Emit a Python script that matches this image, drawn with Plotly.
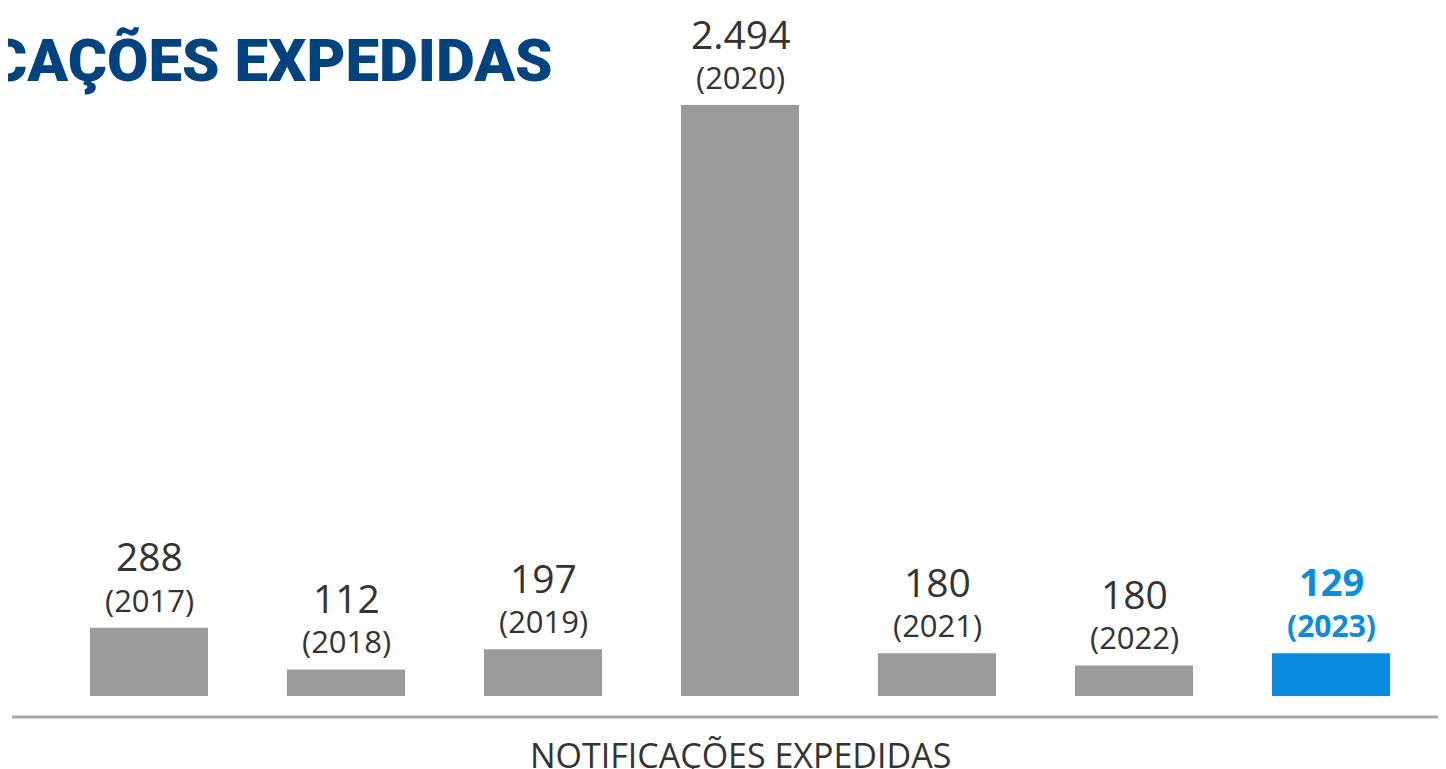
import plotly.graph_objects as go

OFF = 8  # page body margin offset
W, H = 1446 - OFF, 769 - OFF

years = ["2017", "2018", "2019", "2020", "2021", "2022", "2023"]
label_values = ["288", "112", "197", "2.494", "180", "180", "129"]
bar_heights = [288, 112, 197, 2494, 180, 129, 180]
bar_colors = ["#9a9a9a"] * 6 + ["#0a8ce0"]
text_colors = ["#333333"] * 6 + ["#0a8ce0"]
highlight = [False] * 6 + [True]

title_text = "NOTIFICAÇÕES EXPEDIDAS"
axis_title = "NOTIFICAÇÕES EXPEDIDAS"


def fx(p):
    return (p - OFF) / W


def fy(p):
    return 1 - (p - OFF) / H


fig = go.Figure(
    go.Bar(
        x=years,
        y=bar_heights,
        marker=dict(color=bar_colors, line=dict(width=0)),
        hoverinfo="skip",
    )
)

annotations = []
for i, (yr, v, h, c, hl) in enumerate(zip(years, label_values, bar_heights, text_colors, highlight)):
    annotations.append(dict(
        x=i, y=h, xref="x", yref="y", text=f"<b>{v}</b>" if hl else v,
        showarrow=False, xanchor="center", yanchor="middle", yshift=72,
        font=dict(family="Open Sans", size=38 if hl else 39, color=c)))
    annotations.append(dict(
        x=i, y=h, xref="x", yref="y", text=f"<b>({yr})</b>" if hl else f"({yr})",
        showarrow=False, xanchor="center", yanchor="middle", yshift=28,
        font=dict(family="Open Sans", size=30 if hl else 31, color=c)))

annotations += [
    dict(text=axis_title, xref="paper", yref="paper",
         x=fx(740), y=fy(755), xanchor="center", yanchor="middle",
         showarrow=False,
         font=dict(family="Open Sans", size=34, color="#333333")),
    dict(text=title_text, xref="paper", yref="paper",
         x=fx(555), y=fy(60), xanchor="right", yanchor="middle",
         showarrow=False,
         font=dict(family="Roboto", size=60, color="#00437f", weight=900)),
]

bottom_px = 696 - OFF
top_px = 105 - OFF
ymax = bar_heights[3] * bottom_px / (bottom_px - top_px)

fig.update_layout(
    width=W,
    height=H,
    margin=dict(l=0, r=0, t=0, b=0),
    paper_bgcolor="white",
    plot_bgcolor="white",
    bargap=0.401,
    showlegend=False,
    xaxis=dict(
        type="category",
        domain=[fx(50.5), fx(1429.5)],
        range=[-0.5, 6.5],
        showticklabels=False,
        showgrid=False,
        zeroline=False,
        showline=False,
        ticks="",
    ),
    yaxis=dict(
        domain=[1 - bottom_px / H, 1],
        range=[0, ymax],
        visible=False,
    ),
    shapes=[
        dict(type="line", xref="paper", yref="paper",
             x0=fx(12), x1=1, y0=fy(717), y1=fy(717),
             line=dict(color="#a8a8a8", width=3)),
    ],
    annotations=annotations,
)

fig.write_html("out.html")
